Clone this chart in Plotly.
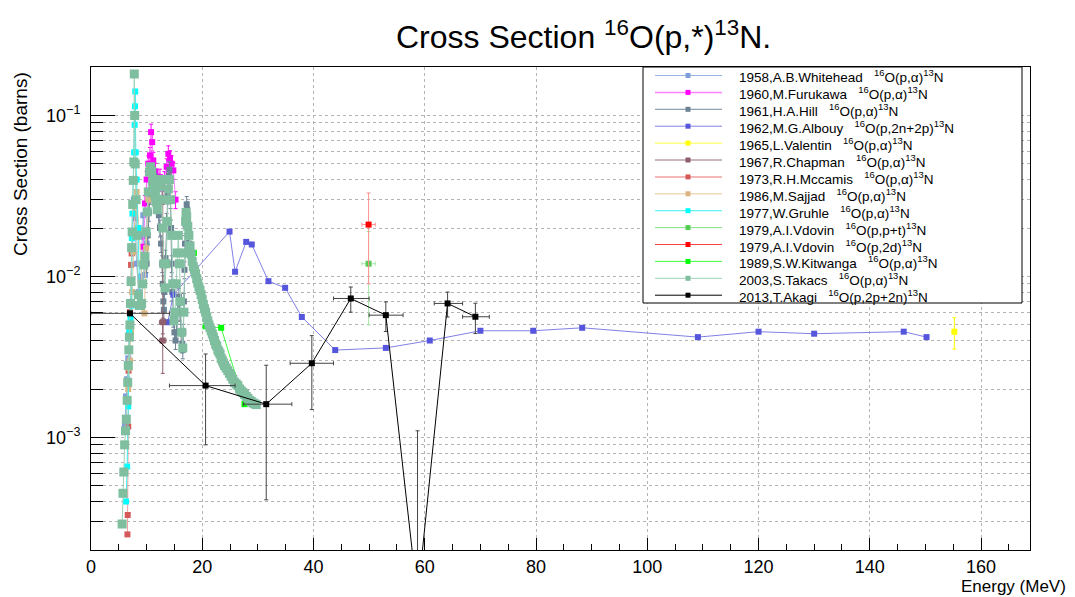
import math
import plotly.graph_objects as go

# ---------------- data ----------------
whitehead_x = [6.1, 6.3, 6.5, 6.7, 6.9, 7.1, 7.4, 7.7, 7.9, 8.2, 8.6, 9.0, 9.2, 9.4, 9.7, 10.0, 10.4]
whitehead_y = [0.0012, 0.0018, 0.0023, 0.0031, 0.0045, 0.0068, 0.014, 0.03, 0.023, 0.012, 0.008, 0.010,
               0.018, 0.024, 0.0102, 0.016, 0.03]

furukawa_x = [9.4, 9.7, 10.0, 10.3, 10.6, 10.8, 11.0, 11.2, 11.6, 12.1, 12.4, 12.8, 13.2, 13.6, 13.9,
              14.2, 14.5, 14.8, 15.2]
furukawa_y = [0.0153, 0.0284, 0.040, 0.0502, 0.0565, 0.0788, 0.0683, 0.0526, 0.045, 0.0386, 0.0414,
              0.035, 0.040, 0.048, 0.0578, 0.054, 0.0502, 0.0456, 0.030]
furukawa_rel_err = 0.12

hill_x = [10.0, 10.2, 10.4, 10.6, 10.8, 11.0, 11.2, 11.4, 11.6, 11.8, 12.0, 12.2, 12.4, 12.6, 12.8, 12.9,
          13.0, 13.1, 13.2, 13.4, 13.6, 13.8, 14.0, 14.1, 14.2, 14.3, 14.4, 14.5, 14.6, 14.8, 15.0, 15.2,
          15.4, 15.6, 15.8, 16.0, 16.2, 16.4, 16.5, 16.6, 16.7, 16.8, 16.9, 17.0, 17.1, 17.2, 17.3, 17.4,
          17.5, 17.7]
hill_y = [0.012, 0.018, 0.025, 0.032, 0.038, 0.042, 0.044, 0.042, 0.038, 0.033, 0.028, 0.024, 0.020,
          0.016, 0.012, 0.009, 0.007, 0.0062, 0.008, 0.013, 0.022, 0.032, 0.042, 0.046, 0.040, 0.030,
          0.020, 0.012, 0.008, 0.0055, 0.0045, 0.0040, 0.0045, 0.0060, 0.0075, 0.0060, 0.0045, 0.0038,
          0.0035, 0.0045, 0.0070, 0.011, 0.016, 0.021, 0.025, 0.028, 0.026, 0.022, 0.019, 0.016]
hill_rel_err = 0.12

albouy_x = [13.8, 14.8, 24.9, 25.9, 27.9, 28.9, 31.9, 34.9, 37.9, 43.9, 53.0, 60.9, 70.0, 79.5, 88.3,
            109.1, 120.0, 130.0, 146.1, 150.2]
albouy_y = [0.0052, 0.0077, 0.019, 0.0107, 0.0164, 0.0158, 0.00935, 0.0085, 0.0056, 0.00349, 0.0036,
            0.0040, 0.0046, 0.0046, 0.0048, 0.0042, 0.00454, 0.00441, 0.00454, 0.0042]

valentin_x = [155.2]
valentin_y = [0.00454]
valentin_err = [0.001]

chapman_x = [12.9, 12.9, 12.9, 12.9]
chapman_y = [0.0395, 0.030, 0.0052, 0.0040]
chapman_err = [0.002, 0.002, 0.0008, 0.0015]
chapman_xerr = [0.6, 0.6, 0.6, 0.6]

mccamis_x = [6.55, 6.6, 6.7, 6.75, 7.0, 7.2, 7.3]
mccamis_y = [0.00025, 0.00033, 0.00117, 0.0026, 0.006, 0.0118, 0.0139]

sajjad_x = [6.7, 6.9, 7.0, 7.2, 7.4, 7.6, 7.9, 8.2, 8.6, 9.0, 9.3, 9.6, 9.9, 10.3]
sajjad_y = [0.002, 0.0027, 0.003, 0.0045, 0.008, 0.0142, 0.025, 0.0335, 0.02, 0.012, 0.0066, 0.0059,
            0.015, 0.03]

gruhle_x = [6.3, 6.5, 6.7, 6.9, 7.1, 7.3, 7.35, 7.45, 7.6, 7.75, 7.85, 7.9, 7.95, 8.05, 8.2, 8.5, 8.8,
            9.1, 9.3]
gruhle_y = [0.0004, 0.00066, 0.00156, 0.0045, 0.0055, 0.0066, 0.0173, 0.0246, 0.040, 0.059, 0.0875,
            0.114, 0.141, 0.059, 0.040, 0.020, 0.0074, 0.0068, 0.009]

vdovin_ppt_x = [49.9]
vdovin_ppt_y = [0.012]
vdovin_ppt_err = [0.007]

vdovin_2d_x = [49.9]
vdovin_2d_y = [0.021]
vdovin_2d_err = [0.012]

kitwanga_x = [18.5, 20.6, 23.4, 27.6]
kitwanga_y = [0.014, 0.0049, 0.0048, 0.00161]

takacs_x = [5.6, 5.75, 5.9, 6.05, 6.2, 6.35, 6.5, 6.6, 6.7, 6.8, 6.9, 7.0, 7.1, 7.2, 7.3, 7.4, 7.5, 7.6,
            7.7, 7.78, 7.85, 7.95, 8.1, 8.3, 8.5, 8.7, 8.9, 9.1, 9.3, 9.5, 9.7, 9.9, 10.1, 10.3, 10.5,
            10.7, 10.9, 11.1, 11.3, 11.5, 11.7, 11.9, 12.1, 12.3, 12.5, 12.7, 12.9, 13.1, 13.3, 13.5,
            13.7, 13.9, 14.1, 14.3, 14.5, 14.7, 14.9, 15.1, 15.3, 15.5, 15.7, 15.9, 16.1, 16.3, 16.5,
            16.7, 16.9, 17.0, 17.08, 17.2, 17.4, 17.6, 17.8, 18.0, 18.2, 18.4, 18.6, 18.8, 19.0, 19.2,
            19.4, 19.6, 19.8, 20.0, 20.2, 20.4, 20.6, 20.8, 21.0, 21.2, 21.4, 21.6, 21.8, 22.0, 22.2,
            22.4, 22.6, 22.8, 23.0, 23.2, 23.4, 23.6, 23.8, 24.0, 24.3, 24.6, 24.9, 25.2, 25.5, 25.8,
            26.1, 26.4, 26.7, 27.0, 27.3, 27.6, 27.9, 28.2, 28.5, 28.8, 29.1, 29.4, 29.7]
takacs_y = [0.00029, 0.00045, 0.00061, 0.0009, 0.0011, 0.0013, 0.0017, 0.0022, 0.0028, 0.0035, 0.0042,
            0.005, 0.0068, 0.0093, 0.0151, 0.0189, 0.028, 0.0395, 0.0514, 0.181, 0.10, 0.05, 0.03,
            0.018, 0.0077, 0.0066, 0.0066, 0.0068, 0.009, 0.0118, 0.0133, 0.0189, 0.0252, 0.0335,
            0.0445, 0.048, 0.045, 0.040, 0.036, 0.032, 0.029, 0.026, 0.030, 0.036, 0.040, 0.030, 0.020,
            0.012, 0.0085, 0.012, 0.022, 0.035, 0.040, 0.030, 0.018, 0.009, 0.0053, 0.006, 0.009,
            0.014, 0.018, 0.012, 0.007, 0.0045, 0.0036, 0.006, 0.014, 0.022, 0.025, 0.0235, 0.0205,
            0.018, 0.0155, 0.0138, 0.0124, 0.0115, 0.0110, 0.0104, 0.0097, 0.0091, 0.0086, 0.0082,
            0.0077, 0.0072, 0.0067, 0.0063, 0.0060, 0.0056, 0.0053, 0.0050, 0.0048, 0.0046, 0.0044,
            0.0042, 0.0040, 0.0038, 0.0037, 0.0035, 0.0034, 0.0033, 0.0031, 0.0030, 0.0029, 0.0028,
            0.0027, 0.0026, 0.0025, 0.0024, 0.0023, 0.0022, 0.00215, 0.0021, 0.0020, 0.00195, 0.0019,
            0.00185, 0.0018, 0.00175, 0.0017, 0.00167, 0.00164, 0.00162, 0.0016]

akagi_x = [7.0, 20.6, 31.5, 39.7, 46.7, 53.0, 58.7, 64.1, 69.1]
akagi_y = [0.0059, 0.0021, 0.00161, 0.00289, 0.0073, 0.00575, 0.0001, 0.0068, 0.00562]
akagi_xerr_plus = [7.1, 5.3, 4.6, 3.9, 3.3, 3.1, 2.5, 2.7, 2.5]
akagi_xerr_minus = [7.0, 6.5, 4.1, 3.9, 3.1, 3.0, 2.5, 2.4, 2.3]
akagi_yerr_plus = [0.0, 0.0012, 0.0012, 0.0014, 0.0013, 0.0012, 0.001, 0.0012, 0.0012]
akagi_yerr_minus = [0.0, 0.0012, 0.0012, 0.0014, 0.0013, 0.0012, 0.00005, 0.0012, 0.0012]

legend_labels = [
    "1958,A.B.Whitehead", "1960,M.Furukawa", "1961,H.A.Hill", "1962,M.G.Albouy", "1965,L.Valentin",
    "1967,R.Chapman", "1973,R.H.Mccamis", "1986,M.Sajjad", "1977,W.Gruhle", "1979,A.I.Vdovin",
    "1979,A.I.Vdovin", "1989,S.W.Kitwanga", "2003,S.Takacs", "2013,T.Akagi",
]
legend_reactions = ["p,α", "p,α", "p,α", "p,2n+2p", "p,α", "p,α", "p,α", "p,α", "p,α", "p,p+t", "p,2d",
                    "p,α", "p,α", "p,2p+2n"]

x_range = [0, 168.8]
y_range = [2e-4, 0.2]

# ---------------- styles ----------------
FONT = "Liberation Sans, Arial, Helvetica, sans-serif"
marker_colors = ["#7f9fd8", "#ff00ff", "#6a8294", "#5555dd", "#ffff00", "#8f5f6b", "#d45a5a", "#dcb47f",
                 "#00ffff", "#55cc55", "#ff0000", "#00ff00", "#7fbf9f", "#000000"]
line_colors = ["#95b2e2", "#ff80ff", "#74899a", "#8080e6", "#ffff40", "#946c76", "#f0a0a0", "#e6c79c",
               "#40f0f0", "#80e080", "#ff4040", "#40ff40", "#9fd0b8", "#000000"]

fig = go.Figure()


def add_series(idx, xs, ys, ey=None, eym=None, ex=None, exm=None, ecolor=None, lw=1, ms=6):
    kw = {}
    col = ecolor or marker_colors[idx]
    if ey is not None:
        d = dict(type="data", array=ey, color=col, thickness=1, width=2, visible=True)
        if eym is not None:
            d["symmetric"] = False
            d["arrayminus"] = eym
        kw["error_y"] = d
    if ex is not None:
        d = dict(type="data", array=ex, color=col, thickness=1, width=2, visible=True)
        if exm is not None:
            d["symmetric"] = False
            d["arrayminus"] = exm
        kw["error_x"] = d
    fig.add_trace(go.Scatter(
        x=xs, y=ys, mode="lines+markers", showlegend=False, name=legend_labels[idx],
        line=dict(color=line_colors[idx], width=lw),
        marker=dict(symbol="square", size=ms, color=marker_colors[idx], line=dict(width=0)),
        **kw))


add_series(0, whitehead_x, whitehead_y)
add_series(1, furukawa_x, furukawa_y, ey=[v * furukawa_rel_err for v in furukawa_y])
add_series(2, hill_x, hill_y, ey=[v * hill_rel_err for v in hill_y], ex=[0.08] * len(hill_x))
add_series(3, albouy_x, albouy_y)
add_series(4, valentin_x, valentin_y, ey=valentin_err)
add_series(5, chapman_x, chapman_y, ey=chapman_err, ex=chapman_xerr)
add_series(6, mccamis_x, mccamis_y)
add_series(7, sajjad_x, sajjad_y)
add_series(8, gruhle_x, gruhle_y)
add_series(9, vdovin_ppt_x, vdovin_ppt_y, ey=vdovin_ppt_err, ex=[1.2], ecolor="#a8e8a8")
add_series(10, vdovin_2d_x, vdovin_2d_y, ey=vdovin_2d_err, ex=[1.2], ecolor="#ff9090")
add_series(11, kitwanga_x, kitwanga_y)
add_series(12, takacs_x, takacs_y, ms=9)
add_series(13, akagi_x, akagi_y, ey=akagi_yerr_plus, eym=akagi_yerr_minus,
           ex=akagi_xerr_plus, exm=akagi_xerr_minus, ecolor="#444444", ms=6)

# ---------------- axes ----------------
decades = [1e-3, 1e-2, 1e-1]
minor_vals = []
for e in (-4, -3, -2, -1):
    for m in range(2, 10):
        v = m * 10 ** e
        if y_range[0] * 0.999 <= v <= y_range[1] * 1.001:
            minor_vals.append(v)

GRID = "#b4b4b4"
fig.update_xaxes(
    range=x_range, showline=True, linecolor="black", linewidth=1, mirror=True,
    ticks="inside", ticklen=12, tickcolor="black", dtick=20, tick0=0,
    tickfont=dict(family=FONT, size=18, color="black"),
    showgrid=True, gridcolor=GRID, griddash="dot", gridwidth=1, zeroline=False,
    minor=dict(dtick=5, ticklen=6, ticks="inside", tickcolor="black", showgrid=False),
)
fig.update_yaxes(
    type="log", range=[math.log10(y_range[0]), math.log10(y_range[1])],
    showline=True, linecolor="black", linewidth=1, mirror=True,
    tickmode="array", tickvals=decades,
    ticktext=["10<sup>−3</sup>", "10<sup>−2</sup>", "10<sup>−1</sup>"],
    ticks="inside", ticklen=24, tickcolor="black", ticklabelstandoff=6,
    tickfont=dict(family=FONT, size=18, color="black"),
    showgrid=True, gridcolor=GRID, griddash="dot", gridwidth=1, zeroline=False,
    minor=dict(tickmode="array", tickvals=minor_vals, ticklen=12, ticks="inside", tickcolor="black",
               showgrid=True, gridcolor=GRID, griddash="dot", gridwidth=1),
)

# ---------------- layout ----------------
W, H = 1075, 597
ML, MR, MT, MB = 91, 45, 67, 47
PW, PH = W - ML - MR, H - MT - MB


def px(xp):
    return (xp - ML) / PW


def py(yp):
    return (H - MB - yp) / PH


annotations = [
    dict(text="Cross Section <sup>16</sup>O(p,*)<sup>13</sup>N.", x=px(583), y=py(35), xref="paper",
         yref="paper", showarrow=False, font=dict(family=FONT, size=32, color="black"),
         xanchor="center", yanchor="middle"),
    dict(text="Cross Section (barns)", x=px(20), y=py(70), xref="paper", yref="paper", showarrow=False,
         textangle=-90, font=dict(family=FONT, size=19, color="black"), xanchor="center", yanchor="top"),
    dict(text="Energy (MeV)", x=px(1068), y=py(586), xref="paper", yref="paper", showarrow=False,
         font=dict(family=FONT, size=17, color="black"), xanchor="right", yanchor="middle"),
]

shapes = [dict(type="rect", xref="paper", yref="paper", x0=px(643), x1=px(1022), y0=py(67), y1=py(303),
               line=dict(color="black", width=1), fillcolor="white", layer="above")]

for i, (lab, rea) in enumerate(zip(legend_labels, legend_reactions)):
    yc = 75.5 + 16.9 * i
    shapes.append(dict(type="line", xref="paper", yref="paper", x0=px(655), x1=px(722), y0=py(yc),
                       y1=py(yc), line=dict(color=line_colors[i], width=1.5 if i in (1, 6) else 1),
                       layer="above"))
    shapes.append(dict(type="rect", xref="paper", yref="paper", x0=px(685.5), x1=px(690.5),
                       y0=py(yc + 2.5), y1=py(yc - 2.5), line=dict(width=0),
                       fillcolor=marker_colors[i], layer="above"))
    annotations.append(dict(
        text=f"{lab}\u00a0\u00a0\u00a0<sup>16</sup>O({rea})<sup>13</sup>N", x=px(737), y=py(yc + 1),
        xref="paper", yref="paper", showarrow=False, xanchor="left", yanchor="middle",
        font=dict(family=FONT, size=13.5, color="black")))

fig.update_layout(
    width=W, height=H, margin=dict(l=ML, r=MR, t=MT, b=MB, pad=0),
    paper_bgcolor="white", plot_bgcolor="white", showlegend=False,
    annotations=annotations, shapes=shapes,
)

fig.write_html("out.html")
